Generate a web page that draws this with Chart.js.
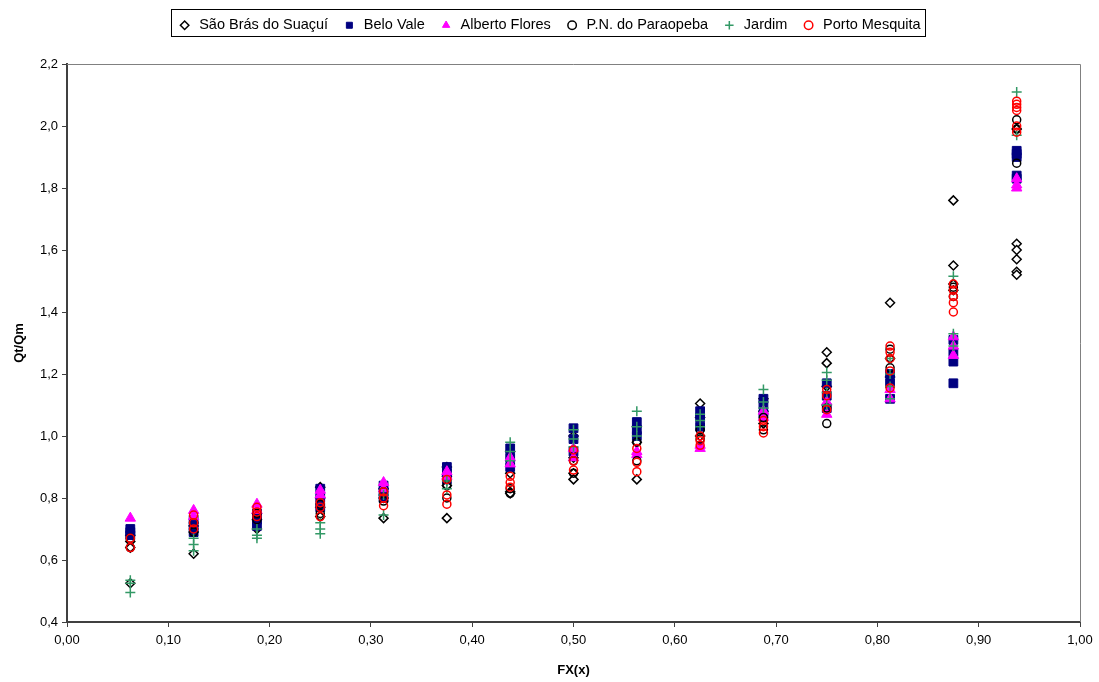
<!DOCTYPE html>
<html>
<head>
<meta charset="utf-8">
<script src="https://cdn.jsdelivr.net/npm/chart.js@4.4.1/dist/chart.umd.min.js"></script>
<style>
  html, body { margin: 0; padding: 0; background: #fff; }
  #wrap { width: 1099px; height: 682px; }
</style>
</head>
<body>
<div id="wrap"><canvas id="grafico"></canvas></div>
<script>
// FX(x) de cada coluna de pontos
const fx = [0.0625, 0.125, 0.1875, 0.25, 0.3125, 0.375, 0.4375, 0.5, 0.5625, 0.625, 0.6875, 0.75, 0.8125, 0.875, 0.9375];

// Qt/Qm lidos por coluna, um array por estação
const saoBras = [
    [0.68, 0.66, 0.64, 0.525], [0.71, 0.69, 0.62], [0.75, 0.73, 0.70], [0.835, 0.80, 0.77, 0.74],
    [0.83, 0.80, 0.735], [0.90, 0.87, 0.84, 0.735], [0.95, 0.88, 0.82, 0.815], [1.00, 0.93, 0.88, 0.86],
    [1.03, 0.98, 0.86], [1.105, 1.06, 1.00], [1.12, 1.08, 1.04], [1.27, 1.235, 1.16, 1.10],
    [1.43, 1.25, 1.19], [1.76, 1.55, 1.49, 1.47], [1.99, 1.62, 1.60, 1.57, 1.53, 1.52]
];
const beloVale = [
    [0.70, 0.69, 0.68], [0.73, 0.71, 0.69], [0.75, 0.73, 0.71], [0.83, 0.80, 0.77],
    [0.84, 0.82, 0.80], [0.90, 0.88, 0.86], [0.96, 0.93, 0.90], [1.025, 0.99, 0.95],
    [1.045, 1.02, 1.00], [1.08, 1.06, 1.03], [1.12, 1.10, 1.07], [1.17, 1.13, 1.09],
    [1.20, 1.17, 1.12], [1.31, 1.27, 1.24, 1.17], [1.92, 1.91, 1.90, 1.84, 1.83]
];
const albertoFlores = [
    [0.735], [0.76, 0.74], [0.78, 0.76], [0.825, 0.81],
    [0.85, 0.83], [0.885, 0.87], [0.93, 0.91], [0.96, 0.93],
    [0.95, 0.94], [0.97, 0.96], [1.08, 1.06], [1.11, 1.07],
    [1.15, 1.12], [1.32, 1.29, 1.26], [1.83, 1.81, 1.80]
];
const paraopeba = [
    [0.67, 0.64], [0.72, 0.69], [0.75, 0.73], [0.78, 0.75],
    [0.82, 0.79], [0.84, 0.80], [0.83, 0.815], [0.92, 0.88],
    [0.98, 0.92], [1.02, 0.99], [1.06, 1.02], [1.09, 1.04],
    [1.28, 1.22], [1.48, 1.45], [2.02, 1.99, 1.88]
];
const jardim = [
    [0.535, 0.525, 0.495], [0.67, 0.65, 0.63], [0.70, 0.68, 0.67], [0.72, 0.70, 0.685],
    [0.81, 0.745], [0.855, 0.83], [0.98, 0.95, 0.92], [1.02, 0.99, 0.965],
    [1.08, 1.03, 1.00], [1.07, 1.05, 1.03], [1.15, 1.11, 1.09], [1.205, 1.18, 1.14, 1.10],
    [1.25, 1.20, 1.16, 1.12], [1.515, 1.33, 1.29], [2.11, 1.97]
];
const portoMesquita = [
    [0.67, 0.64], [0.745, 0.72, 0.70], [0.77, 0.755, 0.74], [0.785, 0.77, 0.74],
    [0.82, 0.80, 0.775], [0.86, 0.81, 0.78], [0.87, 0.85, 0.835], [0.955, 0.92, 0.89],
    [0.96, 0.915, 0.885], [1.00, 0.985, 0.97], [1.05, 1.03, 1.01], [1.15, 1.13, 1.085],
    [1.29, 1.27, 1.25, 1.21, 1.155], [1.49, 1.47, 1.45, 1.43, 1.40], [2.08, 2.07, 2.06, 2.05, 2.00, 1.98]
];

const yTicks = [0.4, 0.6, 0.8, 1.0, 1.2, 1.4, 1.6, 1.8, 2.0, 2.2];
const xTicks = [0, 0.1, 0.2, 0.3, 0.4, 0.5, 0.6, 0.7, 0.8, 0.9, 1.0];

const fonte = '"Liberation Sans", Arial, sans-serif';

function montarPontos(colunas) {
    const pts = [];
    colunas.forEach((vals, i) => vals.forEach(v => pts.push({ x: fx[i], y: v })));
    return pts;
}

// borda da legenda e contorno da área de plotagem (estilo Excel)
const molduras = {
    id: 'molduras',
    afterInit(chart) {
        const lg = chart.legend;
        const fitOriginal = lg.fit;
        lg.fit = function () { fitOriginal.call(this); this.height = 60; };
    },
    afterLayout(chart) {
        // centraliza a legenda na largura toda do canvas
        chart.legend.left += 9;
        chart.legend.right += 9;
    },
    beforeDatasetsDraw(chart) {
        const { ctx, chartArea: a } = chart;
        ctx.save();
        ctx.strokeStyle = '#808080';
        ctx.lineWidth = 1;
        ctx.beginPath();
        ctx.moveTo(a.left, a.top + 0.5);
        ctx.lineTo(a.right + 0.5, a.top + 0.5);
        ctx.lineTo(a.right + 0.5, a.bottom);
        ctx.stroke();
        ctx.restore();
    },
    afterDraw(chart) {
        const { ctx } = chart;
        const caixas = chart.legend.legendHitBoxes;
        if (!caixas || !caixas.length) return;
        const esq = Math.min(...caixas.map(b => b.left)) - 6;
        const dir = Math.max(...caixas.map(b => b.left + b.width)) + 5;
        ctx.save();
        ctx.strokeStyle = '#000';
        ctx.lineWidth = 1;
        ctx.strokeRect(Math.round(esq) + 0.5, 9.5, Math.round(dir - esq), 27);
        ctx.restore();
    }
};

const series = [
    { label: 'São Brás do Suaçuí', dados: saoBras, pointStyle: 'rectRot', radius: 4.5, borderColor: '#000000', backgroundColor: '#ffffff', borderWidth: 1.5 },
    { label: 'Belo Vale', dados: beloVale, pointStyle: 'rect', radius: 6.2, borderColor: '#000080', backgroundColor: '#000080', borderWidth: 1 },
    { label: 'Alberto Flores', dados: albertoFlores, pointStyle: 'triangle', radius: 6, borderColor: '#ff00ff', backgroundColor: '#ff00ff', borderWidth: 1 },
    { label: 'P.N. do Paraopeba', dados: paraopeba, pointStyle: 'circle', radius: 4, borderColor: '#000000', backgroundColor: 'rgba(255,255,255,0)', borderWidth: 1.5 },
    { label: 'Jardim', dados: jardim, pointStyle: 'cross', radius: 5, borderColor: '#339966', backgroundColor: '#339966', borderWidth: 1.5 },
    { label: 'Porto Mesquita', dados: portoMesquita, pointStyle: 'circle', radius: 4, borderColor: '#ff0000', backgroundColor: 'rgba(255,255,255,0)', borderWidth: 1.5 }
];

new Chart(document.getElementById('grafico'), {
    type: 'scatter',
    data: {
        datasets: series.map((s, i) => ({
            label: s.label,
            data: montarPontos(s.dados),
            pointStyle: s.pointStyle,
            pointRadius: s.radius,
            pointHoverRadius: s.radius,
            borderColor: s.borderColor,
            backgroundColor: s.backgroundColor,
            borderWidth: s.borderWidth,
            order: series.length - 1 - i
        }))
    },
    options: {
        responsive: true,
        maintainAspectRatio: false,
        animation: false,
        layout: { padding: { top: 4, right: 19, left: 0, bottom: 0 } },
        plugins: {
            legend: {
                position: 'top',
                labels: {
                    usePointStyle: true,
                    boxHeight: 6,
                    padding: 14,
                    color: '#000',
                    font: { family: fonte, size: 14.5 },
                    sort: (a, b) => a.datasetIndex - b.datasetIndex
                }
            },
            tooltip: { enabled: false }
        },
        scales: {
            x: {
                type: 'linear',
                min: 0, max: 1,
                afterBuildTicks: (scale) => { scale.ticks = xTicks.map(v => ({ value: v })); },
                afterFit: (scale) => { scale.height = 60; },
                ticks: {
                    color: '#000',
                    font: { family: fonte, size: 13 },
                    padding: 6,
                    maxRotation: 0,
                    callback: (v) => Number(v).toFixed(2).replace('.', ',')
                },
                grid: { drawOnChartArea: false, drawTicks: true, tickLength: 5, color: '#404040' },
                border: { color: '#404040', width: 2 },
                title: { display: true, text: 'FX(x)', color: '#000', font: { family: fonte, size: 13, weight: 'bold' }, padding: { top: 4, bottom: 4 } }
            },
            y: {
                type: 'linear',
                min: 0.4, max: 2.2,
                afterBuildTicks: (scale) => { scale.ticks = yTicks.map(v => ({ value: v })); },
                afterFit: (scale) => { scale.width = 67; },
                ticks: {
                    color: '#000',
                    font: { family: fonte, size: 13 },
                    padding: 4,
                    callback: (v) => Number(v).toFixed(1).replace('.', ',')
                },
                grid: { drawOnChartArea: false, drawTicks: true, tickLength: 5, color: '#404040' },
                border: { color: '#404040', width: 2 },
                title: { display: true, text: 'Qt/Qm', color: '#000', font: { family: fonte, size: 13, weight: 'bold' }, padding: { top: 12, bottom: 0 } }
            }
        }
    },
    plugins: [molduras]
});
</script>
</body>
</html>
